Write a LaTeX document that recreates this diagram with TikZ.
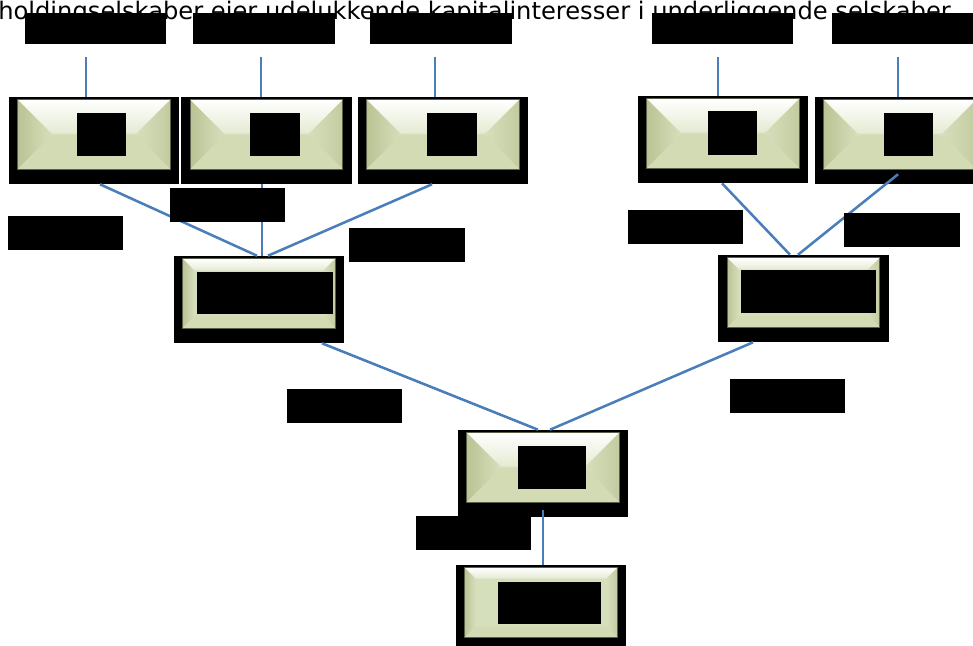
\documentclass[tikz,border=0pt]{standalone}
\usepackage{fontspec}
\usepackage{xcolor}
\usepackage{tikz}
\usetikzlibrary{calc}
\newfontfamily\titlefont{DejaVu Sans}

\definecolor{facegreen}{HTML}{D6DFBB}
\definecolor{facetop}{HTML}{E4EAD2}
\definecolor{faceside}{HTML}{BAC394}
\definecolor{facebottom}{HTML}{D2DBB3}
\definecolor{faceedge}{HTML}{5A5F48}
\definecolor{linkblue}{HTML}{4A7EBB}

% bevelled face inside a black frame node: #1 node, #2 bevel depth
\newcommand{\bevelface}[2]{%
  \coordinate (fA) at ($(#1.north west)+(9,3)$);
  \coordinate (fB) at ($(#1.north east)+(-9,3)$);
  \coordinate (fC) at ($(#1.south east)+(-9,-15)$);
  \coordinate (fD) at ($(#1.south west)+(9,-15)$);
  \coordinate (iA) at ($(fA)+(#2,#2)$);
  \coordinate (iB) at ($(fB)+(-#2,#2)$);
  \coordinate (iC) at ($(fC)+(-#2,-#2)$);
  \coordinate (iD) at ($(fD)+(#2,-#2)$);
  \fill[facegreen] (fA) rectangle (fC);
  \shade[top color=white, bottom color=facetop] (fA) -- (fB) -- (iB) -- (iA) -- cycle;
  \shade[left color=faceside, right color=facegreen] (fA) -- (iA) -- (iD) -- (fD) -- cycle;
  \shade[left color=facegreen, right color=faceside!70!facegreen] (fB) -- (iB) -- (iC) -- (fC) -- cycle;
  \fill[facebottom] (fD) -- (iD) -- (iC) -- (fC) -- cycle;
  \draw[faceedge, line width=0.5pt] (fA) rectangle (fC);
}

\begin{document}
\begin{tikzpicture}[
    x=0.025cm, y=-0.025cm,
    orgbox/.style={fill=black, inner sep=0, minimum width=4.25cm, minimum height=2.175cm},
    hidebox/.style={fill=black, inner sep=0},
    toptag/.style={hidebox, minimum width=3.525cm, minimum height=0.775cm},
    sidetag/.style={hidebox, minimum width=2.875cm, minimum height=0.85cm},
    square/.style={hidebox, minimum width=1.225cm, minimum height=1.075cm},
    link/.style={draw=linkblue, line width=1.8pt},
]
\path[use as bounding box] (0,0) rectangle (973,645);
\clip (0,0) rectangle (973,645);
\fill[white] (0,0) rectangle (973,645);

% Heading
\node[anchor=base west, inner sep=0, font=\titlefont\fontsize{17.2}{20}\selectfont] (title) at (-2,19.5)
  {holdingselskaber ejer udelukkende kapitalinteresser i underliggende selskaber};

% Top row
\node[orgbox] (b1) at (94,140.5) {};   \bevelface{b1}{34}
\node[orgbox] (b2) at (266.5,140.5) {}; \bevelface{b2}{34}
\node[orgbox] (b3) at (443,140.5) {};  \bevelface{b3}{34}
\node[orgbox] (b4) at (723,139.5) {};  \bevelface{b4}{34}
\node[orgbox] (b5) at (900,140.5) {};  \bevelface{b5}{34}
\node[square] (b1txt) at (101.5,134.5) {};
\node[square] (b2txt) at (275,134.5) {};
\node[square] (b3txt) at (452,134.5) {};
\node[square] (b4txt) at (732,133) {};
\node[square] (b5txt) at (908,134.5) {};

% Holding level
\node[orgbox] (b6) at (259,299.5) {};   \bevelface{b6}{12}
\node[orgbox] (b7) at (803.5,298.5) {}; \bevelface{b7}{12}
\node[hidebox, minimum width=3.4cm, minimum height=1.05cm] (b6txt) at (265,293) {};
\node[hidebox, minimum width=3.375cm, minimum height=1.075cm] (b7txt) at (808.5,291.5) {};

% Parent and owner
\node[orgbox] (b8) at (543,473.5) {}; \bevelface{b8}{34}
\node[orgbox] (b9) at (541,608.5) {}; \bevelface{b9}{11}
\node[hidebox, minimum width=1.7cm, minimum height=1.075cm] (b8txt) at (552,467.5) {};
\node[hidebox, minimum width=2.575cm, minimum height=1.05cm] (b9txt) at (549.5,603) {};

% Tags over the top row
\node[toptag] (t1) at (95.5,28.5) {};
\node[toptag] (t2) at (264,28.5) {};
\node[toptag] (t3) at (441,28.5) {};
\node[toptag] (t4) at (722.5,28.5) {};
\node[toptag] (t5) at (902.5,28.5) {};

% Links
\draw[link] ($(t1.south)+(-9.5,13)$) -- ($(b1.north)+(-8,0)$);
\draw[link] ($(t2.south)+(-3,13)$) -- ($(b2.north)+(-5.5,0)$);
\draw[link] ($(t3.south)+(-6,13)$) -- ($(b3.north)+(-8,0)$);
\draw[link] ($(t4.south)+(-4.5,13)$) -- ($(b4.north)+(-5,0)$);
\draw[link] ($(t5.south)+(-4.5,13)$) -- ($(b5.north)+(-2,0)$);
\draw[link] ($(b1.south)+(6,0)$) -- ($(b6.north)+(-2,0)$);
\draw[link] ($(b2.south)+(-4.5,0)$) -- ($(b6.north)+(3,0)$);
\draw[link] ($(b3.south)+(-11,0)$) -- ($(b6.north)+(9,0)$);
\draw[link] ($(b4.south)+(-1,0)$) -- ($(b7.north)+(-13.5,0)$);
\draw[link] ($(b5.south)+(-2,-10)$) -- ($(b7.north)+(-5.5,0)$);
\draw[link] ($(b6.south)+(63,0)$) -- ($(b8.north)+(-5,0)$);
\draw[link] ($(b7.south)+(-50.5,0)$) -- ($(b8.north)+(7,0)$);
\draw[link] ($(b8.south)+(0,-7)$) -- ($(b9.north)+(2,0)$);

% Tags beside the links
\node[sidetag] (e1) at (65.5,233) {};
\node[sidetag] (e2) at (227.5,205) {};
\node[sidetag] (e3) at (407,245) {};
\node[sidetag] (e4) at (685.5,227) {};
\node[sidetag] (e5) at (902,230) {};
\node[sidetag] (e6) at (344.5,406) {};
\node[sidetag] (e7) at (787.5,396) {};
\node[sidetag] (e8) at (473.5,533) {};
\end{tikzpicture}
\end{document}
